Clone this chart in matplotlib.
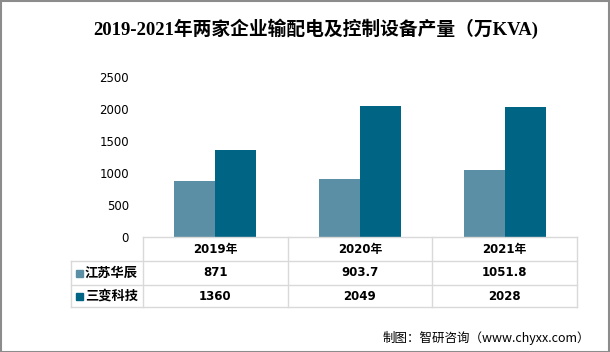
import numpy as np
import matplotlib
matplotlib.use("Agg")
import matplotlib.pyplot as plt
from matplotlib.lines import Line2D
from matplotlib.patches import Rectangle

plt.rcParams['font.family'] = ['DejaVu Sans', 'Noto Sans CJK SC']

title = "2019-2021年两家企业输配电及控制设备产量（万KVA)"
years = ["2019年", "2020年", "2021年"]
names = ["江苏华辰", "三变科技"]
huachen = [871, 903.7, 1051.8]
sanbian = [1360, 2049, 2028]
labels_h = ["871", "903.7", "1051.8"]
labels_s = ["1360", "2049", "2028"]
colors = ["#5b8fa6", "#006485"]
source = "制图：智研咨询（www.chyxx.com）"

W, H = 610, 352
fig = plt.figure(figsize=(W / 100, H / 100), dpi=100)


def fx(px):
    return px / W


def fy(py):
    return 1 - py / H


# plot area
x0, x1, y0, y1 = 143, 577, 237, 77
ax = fig.add_axes([fx(x0), fy(y0), fx(x1) - fx(x0), fy(y1) - fy(y0)])
x = np.arange(len(years))
w = 0.283
ax.bar(x - w / 2, huachen, w, color=colors[0])
ax.bar(x + w / 2, sanbian, w, color=colors[1])
ax.set_xlim(-0.5, len(years) - 0.5)
ax.set_ylim(0, 2500)
ax.set_yticks(np.arange(0, 2501, 500))
ax.tick_params(axis='y', length=0, labelsize=8.5, pad=10)
ax.set_xticks([])
for s in ax.spines.values():
    s.set_visible(False)

# data table under the plot
grid = "#d9d9d9"
cols = [143, 288, 432, 577]
rows = [237, 261, 285, 307]
for c in cols:
    fig.add_artist(Line2D([fx(c)] * 2, [fy(rows[0]), fy(rows[-1])], color=grid, lw=1))
fig.add_artist(Line2D([fx(143), fx(577)], [fy(rows[0])] * 2, color=grid, lw=1))
for r in rows[1:]:
    fig.add_artist(Line2D([fx(71), fx(577)], [fy(r)] * 2, color=grid, lw=1))
fig.add_artist(Line2D([fx(71)] * 2, [fy(rows[1]), fy(rows[-1])], color=grid, lw=1))

tfont = dict(fontsize=8.5, fontweight='bold', ha='center', va='center',
             family=['DejaVu Sans', 'Noto Sans CJK SC'])
for i, yr in enumerate(years):
    cx = fx((cols[i] + cols[i + 1]) / 2)
    fig.text(cx, fy((rows[0] + rows[1]) / 2), yr, **tfont)
    fig.text(cx, fy((rows[1] + rows[2]) / 2), labels_h[i], **tfont)
    fig.text(cx, fy((rows[2] + rows[3]) / 2), labels_s[i], **tfont)
for j, nm in enumerate(names):
    cy = (rows[j + 1] + rows[j + 2]) / 2
    fig.add_artist(Rectangle((fx(76), fy(cy + 3.5)), fx(7), 7 / H, color=colors[j]))
    fig.text(fx(85), fy(cy), nm, fontsize=9.5, fontweight='bold', ha='left', va='center',
             family=['Noto Sans CJK SC'])

fig.text(fx(316), fy(29), title, fontsize=13.5, ha='center', va='center',
         family=['Liberation Serif', 'Noto Sans CJK SC'], fontweight='bold')
fig.text(fx(590), fy(338), source, fontsize=9, ha='right', va='center',
         family=['Noto Sans CJK SC'])

fig.add_artist(Rectangle((0.5 / W, 0.5 / H), 1 - 1.5 / W, 1 - 1.5 / H, fill=False,
                         edgecolor="#8c8c8c", lw=1.5))

fig.savefig("out.png", dpi=100)
